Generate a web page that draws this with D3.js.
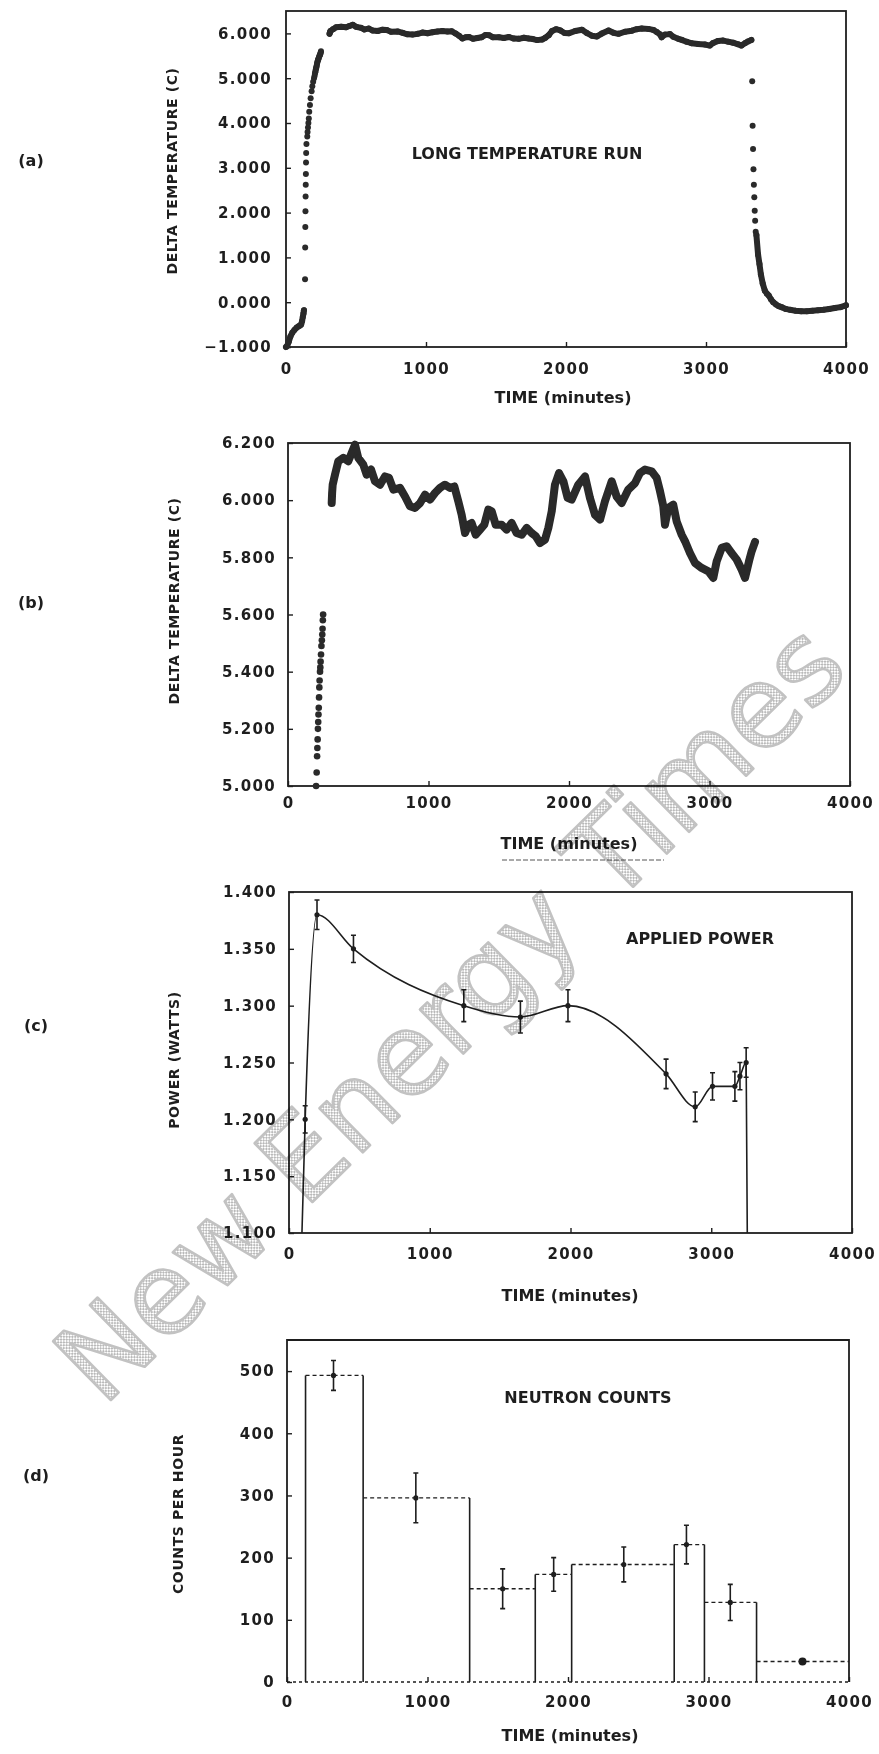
<!DOCTYPE html>
<html>
<head>
<meta charset="utf-8">
<script src="https://cdn.jsdelivr.net/npm/d3@7"></script>
<style>
body { margin: 0; background: #fff; }
text { font-family: "DejaVu Sans", sans-serif; fill: #1e1e1e; }
.tick text { font-weight: bold; font-size: 15px; letter-spacing: 1.3px; }
.title { font-weight: bold; font-size: 14px; letter-spacing: 0.6px; }
.note { font-weight: bold; font-size: 16px; }
.letter { font-weight: bold; font-size: 16px; }
</style>
</head>
<body>
<div id="chart"></div>
<script>
// tick values
var xTicks = [0, 1000, 2000, 3000, 4000];
var tempTicksA = [-1, 0, 1, 2, 3, 4, 5, 6];
var tempTicksB = [5.0, 5.2, 5.4, 5.6, 5.8, 6.0, 6.2];
var powerTicks = [1.10, 1.15, 1.20, 1.25, 1.30, 1.35, 1.40];
var countTicks = [0, 100, 200, 300, 400, 500];

// delta temperature (C) vs time (minutes)
var warmupTime = [0, 8, 20, 32, 45, 60, 75, 88, 100, 108, 115, 120, 125, 128];
var warmupTemp = [-1.0, -0.98, -0.88, -0.76, -0.68, -0.62, -0.57, -0.54, -0.52, -0.50, -0.42, -0.33, -0.25, -0.18];

var riseTime = [136, 137, 138, 139, 140, 141, 142, 143, 144, 146,
  152, 154, 157, 160, 163, 166, 171, 176, 183, 188, 194, 200,
  204, 207, 209, 211, 213, 215, 217, 219, 221, 223, 225, 228, 230, 232, 235, 238, 241, 244, 246, 248, 250];
var riseTemp = [0.51, 1.22, 1.68, 2.03, 2.36, 2.62, 2.86, 3.12, 3.33, 3.53,
  3.70, 3.80, 3.90, 4.00, 4.10, 4.25, 4.40, 4.55, 4.71, 4.82, 4.92, 5.00,
  5.047, 5.104, 5.133, 5.163, 5.200, 5.224, 5.250, 5.274, 5.310, 5.345, 5.369, 5.400, 5.415, 5.435, 5.460, 5.490, 5.510, 5.530, 5.550, 5.580, 5.600];

var plateauTime = [311, 314, 318, 335, 358, 394, 429, 453, 477, 500, 536, 560, 591, 619, 655, 690, 719, 750, 797, 833,
  868, 904, 940, 975, 1011, 1046, 1082, 1117, 1153, 1184, 1212, 1236, 1260, 1284, 1307, 1336, 1367, 1397, 1426, 1450,
  1478, 1521, 1556, 1592, 1627, 1663, 1699, 1734, 1763, 1794, 1829, 1853, 1877, 1900, 1929, 1960, 1990, 2019, 2066, 2114,
  2149, 2185, 2221, 2256, 2304, 2339, 2375, 2422, 2470, 2505, 2541, 2588, 2624, 2648, 2671, 2683, 2707, 2742, 2766, 2802,
  2826, 2861, 2897, 2944, 2992, 3027, 3051, 3087, 3122, 3158, 3194, 3229, 3253, 3281, 3300, 3324];
var plateauTemp = [5.990, 6.025, 6.054, 6.090, 6.136, 6.148, 6.136, 6.165, 6.194, 6.148, 6.124, 6.089, 6.107, 6.066, 6.054, 6.083, 6.078, 6.037, 6.043, 6.013,
  5.979, 5.973, 5.990, 6.019, 6.002, 6.025, 6.043, 6.054, 6.043, 6.048, 5.996, 5.949, 5.885, 5.914, 5.920, 5.879, 5.897, 5.914, 5.967, 5.961,
  5.914, 5.914, 5.897, 5.920, 5.885, 5.879, 5.903, 5.885, 5.874, 5.850, 5.862, 5.903, 5.961, 6.054, 6.095, 6.066, 6.008, 6.002, 6.054, 6.083,
  6.008, 5.949, 5.932, 5.996, 6.066, 6.013, 5.990, 6.037, 6.060, 6.095, 6.107, 6.101, 6.078, 6.031, 5.979, 5.914, 5.973, 5.984, 5.926, 5.879,
  5.856, 5.815, 5.780, 5.763, 5.751, 5.728, 5.786, 5.833, 5.839, 5.815, 5.792, 5.757, 5.728, 5.786, 5.821, 5.854];

var dropTime = [3330, 3333, 3336, 3339, 3342, 3345, 3348, 3351, 3355];
var dropTemp = [4.93, 3.94, 3.42, 2.97, 2.62, 2.34, 2.04, 1.82, 1.57];

var tailTime = [3360, 3372, 3382, 3392, 3405, 3420, 3435, 3448, 3465, 3480, 3500, 3520, 3540, 3570, 3600,
  3640, 3680, 3720, 3760, 3800, 3840, 3880, 3920, 3960, 4000];
var tailTemp = [1.50, 1.06, 0.85, 0.62, 0.42, 0.26, 0.19, 0.15, 0.06, 0.00, -0.05, -0.09, -0.11, -0.15, -0.17,
  -0.19, -0.20, -0.20, -0.19, -0.18, -0.17, -0.15, -0.13, -0.11, -0.07];

// applied power (watts)
var powerTime = [92, 115, 199, 458, 1242, 1644, 1982, 2679, 2886, 3009, 3168, 3204, 3248, 3256];
var powerWatts = [1.100, 1.200, 1.380, 1.350, 1.300, 1.290, 1.300, 1.240, 1.211, 1.229, 1.229, 1.238, 1.250, 1.100];
var powerErr = [0, 0.012, 0.013, 0.012, 0.014, 0.014, 0.014, 0.013, 0.013, 0.012, 0.013, 0.012, 0.013, 0];

// neutron counts per hour
var binEdges = [132, 542, 1300, 1767, 2026, 2756, 2971, 3342, 4000];
var binCounts = [493, 296, 150, 173, 189, 221, 128, 33];
var countTime = [331, 917, 1535, 1898, 2397, 2843, 3155, 3669];
var countErr = [24, 40, 32, 27, 28, 31, 29, 0];

var watermarkWords = ["New", "Energy", "Times"];

function long_temperature_chart(_containerId) {
	var WIDTH = 879, HEIGHT = 1754, INK = "#1e1e1e";
	var svg, panels;

	function frame(p) {
		var g = svg.append("g").attr("class", "panel-" + p.id);
		var x = d3.scaleLinear().domain([0, 4000]).range([p.left, p.right]);
		var y = d3.scaleLinear().domain(p.yDomain).range([p.bottom, p.top]);

		var ya = g.append("g").attr("transform", "translate(" + p.left + ",0)")
			.call(d3.axisLeft(y).tickValues(p.yTicks).tickFormat(d3.format(p.fmt))
				.tickSizeInner(-5).tickSizeOuter(0).tickPadding(p.yPad));
		ya.select(".domain").remove();
		ya.selectAll("line").attr("stroke", INK).attr("stroke-width", 1.4);

		var xa = g.append("g").attr("transform", "translate(0," + p.bottom + ")")
			.call(d3.axisBottom(x).tickValues(xTicks).tickFormat(d3.format("d"))
				.tickSizeInner(-5).tickSizeOuter(0).tickPadding(p.xPad));
		xa.select(".domain").remove();
		xa.selectAll("line").attr("stroke", INK).attr("stroke-width", 1.4);

		if (p.dottedBase) {
			g.append("path").attr("d", "M" + p.left + "," + p.bottom + "H" + p.right)
				.attr("stroke", INK).attr("stroke-width", 1.3).attr("stroke-dasharray", "3,3");
			g.append("path").attr("d", "M" + p.left + "," + p.bottom + "V" + p.top + "H" + p.right + "V" + p.bottom)
				.attr("fill", "none").attr("stroke", INK).attr("stroke-width", 1.8);
		} else {
			g.append("rect").attr("x", p.left).attr("y", p.top)
				.attr("width", p.right - p.left).attr("height", p.bottom - p.top)
				.attr("fill", "none").attr("stroke", INK).attr("stroke-width", 1.8);
		}

		g.append("text").attr("class", "title")
			.attr("transform", "translate(" + p.yTitleX + "," + p.yTitleY + ")rotate(-90)")
			.attr("text-anchor", "middle").attr("dominant-baseline", "central").text(p.yTitle);
		g.append("text").attr("class", "note").attr("x", p.xTitleX).attr("y", p.xTitleY)
			.attr("text-anchor", "middle").attr("dominant-baseline", "central").text("TIME (minutes)");
		g.append("text").attr("class", "letter").attr("x", p.letterX).attr("y", p.letterY)
			.attr("text-anchor", "middle").attr("dominant-baseline", "central").text("(" + p.id + ")");
		if (p.note) {
			g.append("text").attr("class", "note").attr("x", p.noteX).attr("y", p.noteY)
				.attr("text-anchor", "middle").attr("dominant-baseline", "central").text(p.note);
		}
		return { g: g, x: x, y: y };
	}

	function inRange(p, T, V) {
		return d3.zip(T, V).filter(function(d) { return d[1] >= p.yDomain[0] - 0.001 && d[1] <= p.yDomain[1] + 0.02; });
	}

	function band(f, p, T, V, w) {
		var pts = inRange(p, T, V);
		if (pts.length < 2) return;
		f.g.append("path").datum(pts)
			.attr("d", d3.line().x(function(d) { return f.x(d[0]); }).y(function(d) { return f.y(d[1]); }))
			.attr("fill", "none").attr("stroke", "#2a2a2a").attr("stroke-width", w)
			.attr("stroke-linejoin", "round").attr("stroke-linecap", "round");
	}

	function dots(f, p, T, V, r) {
		f.g.append("g").selectAll("circle").data(inRange(p, T, V)).enter().append("circle")
			.attr("cx", function(d) { return f.x(d[0]); })
			.attr("cy", function(d) { return f.y(d[1]); })
			.attr("r", r).attr("fill", "#2a2a2a");
	}

	function temperature(f, p) {
		band(f, p, warmupTime, warmupTemp, p.band);
		band(f, p, plateauTime, plateauTemp, p.band);
		band(f, p, tailTime, tailTemp, p.band);
		[[warmupTime, warmupTemp], [riseTime, riseTemp], [plateauTime, plateauTemp],
		 [dropTime, dropTemp], [tailTime, tailTemp]].forEach(function(s) {
			dots(f, p, s[0], s[1], p.dot);
		});
	}

	function errorBars(f, T, V, E, cap) {
		var data = d3.zip(T, V, E).filter(function(d) { return d[2] > 0; });
		var eb = f.g.append("g").attr("stroke", INK).attr("stroke-width", 1.6);
		eb.selectAll("path").data(data).enter().append("path")
			.attr("d", function(d) {
				var cx = f.x(d[0]), t = f.y(d[1] + d[2]), b = f.y(d[1] - d[2]);
				return "M" + cx + "," + t + "V" + b +
					"M" + (cx - cap) + "," + t + "H" + (cx + cap) +
					"M" + (cx - cap) + "," + b + "H" + (cx + cap);
			});
		f.g.append("g").selectAll("circle").data(data).enter().append("circle")
			.attr("cx", function(d) { return f.x(d[0]); })
			.attr("cy", function(d) { return f.y(d[1]); })
			.attr("r", 2.6).attr("fill", INK);
	}

	function power(f) {
		f.g.append("path").datum(d3.zip(powerTime, powerWatts))
			.attr("d", d3.line().curve(d3.curveMonotoneX)
				.x(function(d) { return f.x(d[0]); }).y(function(d) { return f.y(d[1]); }))
			.attr("fill", "none").attr("stroke", INK).attr("stroke-width", 1.6);
		errorBars(f, powerTime, powerWatts, powerErr, 2.5);
	}

	function neutrons(f) {
		var bins = binCounts.map(function(c, i) { return { x0: binEdges[i], x1: binEdges[i + 1], c: c }; });
		f.g.append("g").selectAll("path").data(bins).enter().append("path")
			.attr("d", function(d) { return "M" + f.x(d.x0) + "," + f.y(d.c) + "H" + f.x(d.x1); })
			.attr("stroke", INK).attr("stroke-width", 1.3).attr("stroke-dasharray", "4,3");
		var edges = binEdges.slice(0, -1).map(function(e, i) {
			return { x: e, top: Math.max(binCounts[i], i > 0 ? binCounts[i - 1] : 0) };
		});
		f.g.append("g").selectAll("path").data(edges).enter().append("path")
			.attr("d", function(d) { return "M" + f.x(d.x) + "," + f.y(0) + "V" + f.y(d.top); })
			.attr("stroke", INK).attr("stroke-width", 1.6);
		errorBars(f, countTime, binCounts, countErr, 2.5);
		var last = countErr.length - 1;
		f.g.append("circle").attr("cx", f.x(countTime[last])).attr("cy", f.y(binCounts[last]))
			.attr("r", 4).attr("fill", INK);
	}

	function watermark() {
		var defs = svg.append("defs");
		var pat = defs.append("pattern").attr("id", "halftone")
			.attr("width", 4).attr("height", 4).attr("patternUnits", "userSpaceOnUse");
		pat.append("rect").attr("width", 2).attr("height", 2).attr("fill", "#b9b9b9");
		pat.append("rect").attr("x", 2).attr("y", 2).attr("width", 2).attr("height", 2).attr("fill", "#b9b9b9");

		var size = 113, gap = size * 0.32;
		var wm = svg.append("g").attr("transform", "translate(450,1012)rotate(-44.5)")
			.style("mix-blend-mode", "multiply");
		var words = wm.selectAll("text").data(watermarkWords).enter().append("text")
			.attr("dominant-baseline", "central")
			.style("font-family", "'DejaVu Sans', sans-serif").style("font-size", size + "px")
			.style("fill", "url(#halftone)").style("stroke", "#c2c2c2").style("stroke-width", 2.6)
			.style("stroke-linejoin", "round")
			.text(function(d) { return d; });
		var widths = [];
		words.each(function() { widths.push(this.getComputedTextLength()); });
		var total = d3.sum(widths) + gap * (widths.length - 1), pos = -total / 2;
		words.attr("x", function(d, i) { var x0 = pos; pos += widths[i] + gap; return x0; });
	}

	function create() {
		svg = d3.select(_containerId).append("svg")
			.attr("width", WIDTH).attr("height", HEIGHT);
		svg.append("rect").attr("width", WIDTH).attr("height", HEIGHT).attr("fill", "#fff");

		panels = [
			{ id: "a", left: 286, right: 846, top: 11, bottom: 347, yDomain: [-1, 6.5], yTicks: tempTicksA, fmt: ".3f",
			  yPad: 14, xPad: 16, yTitle: "DELTA TEMPERATURE (C)", yTitleX: 172, yTitleY: 171,
			  xTitleX: 563, xTitleY: 397, letterX: 31, letterY: 160,
			  note: "LONG TEMPERATURE RUN", noteX: 527, noteY: 153, band: 6, dot: 3 },
			{ id: "b", left: 288, right: 850, top: 443, bottom: 786, yDomain: [5.0, 6.2], yTicks: tempTicksB, fmt: ".3f",
			  yPad: 12, xPad: 11, yTitle: "DELTA TEMPERATURE (C)", yTitleX: 174, yTitleY: 601,
			  xTitleX: 569, xTitleY: 843, letterX: 31, letterY: 602, band: 8, dot: 3.3 },
			{ id: "c", left: 289, right: 852, top: 892, bottom: 1233, yDomain: [1.1, 1.4], yTicks: powerTicks, fmt: ".3f",
			  yPad: 12, xPad: 15, yTitle: "POWER (WATTS)", yTitleX: 174, yTitleY: 1060,
			  xTitleX: 570, xTitleY: 1295, letterX: 36, letterY: 1025,
			  note: "APPLIED POWER", noteX: 700, noteY: 938 },
			{ id: "d", left: 287, right: 849, top: 1340, bottom: 1682, yDomain: [0, 550], yTicks: countTicks, fmt: "d",
			  yPad: 12, xPad: 14, yTitle: "COUNTS PER HOUR", yTitleX: 178, yTitleY: 1514,
			  xTitleX: 570, xTitleY: 1735, letterX: 36, letterY: 1475, dottedBase: true,
			  note: "NEUTRON COUNTS", noteX: 588, noteY: 1397 }
		];

		temperature(frame(panels[0]), panels[0]);
		temperature(frame(panels[1]), panels[1]);
		power(frame(panels[2]));
		neutrons(frame(panels[3]));

		// scan artefact under the (b) axis title
		svg.append("path").attr("d", "M502,860H664").attr("stroke", "#555")
			.attr("stroke-width", 1).attr("stroke-dasharray", "5,2");

		watermark();
	}

	create();
}

long_temperature_chart("#chart");
</script>
</body>
</html>
